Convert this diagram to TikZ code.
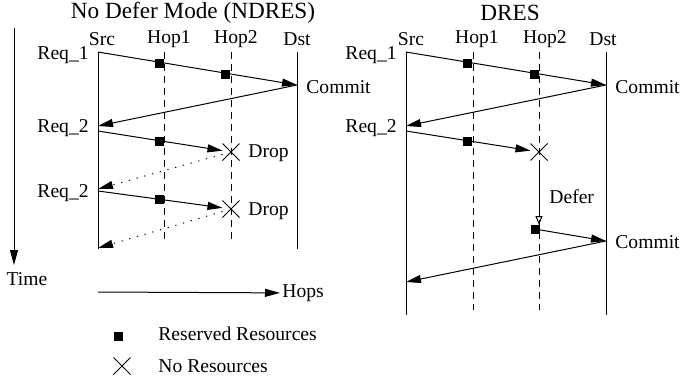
\documentclass[tikz,border=0pt]{standalone}
\usepackage{fontspec}
\setmainfont{Liberation Serif}
\usetikzlibrary{arrows.meta, shapes.misc, calc}

\tikzset{
  lbl/.style={font=\fontsize{9.8}{11}\selectfont, inner sep=1pt},
  ttl/.style={font=\fontsize{11.6}{13}\selectfont, inner sep=1pt},
  msg/.style={-{Triangle[length=7.5pt,width=4pt]}, line width=0.5pt},
  nack/.style={msg, dash pattern=on 0.6pt off 3.4pt},
  defer/.style={-{Triangle[open,length=4.5pt,width=3.5pt]}, line width=0.5pt},
  endpt/.style={line width=0.5pt},
  hop/.style={line width=0.5pt, dash pattern=on 3.5pt off 2.5pt},
  resv/.style={fill=black, minimum size=4.5pt, inner sep=0pt, anchor=east},
  nores/.style={cross out, draw, line width=0.5pt, minimum size=8pt, inner sep=0pt},
}

\begin{document}
\begin{tikzpicture}[x=0.5pt, y=-0.5pt]
\useasboundingbox (0,0) rectangle (680,381);

% time axis
\coordinate (tm0) at (14,28);
\coordinate (tm1) at (14,265);
\node[lbl] (tm) at (27,279) {Time};
\draw[msg] (tm0) -- (tm1);

% ---- no defer mode ----
\node[ttl] (t1) at (193,13) {No Defer Mode (NDRES)};
\node[lbl] (lsrc) at (102,39) {Src};
\node[lbl] (lh1) at (169,39) {Hop1};
\node[lbl] (lh2) at (236,39) {Hop2};
\node[lbl] (ldst) at (297,39) {Dst};

\draw[endpt] (98,52) -- (98,249);
\draw[endpt] (297,52) -- (297,249);
\draw[hop] (164,52) -- (164,243);
\draw[hop] (231,52) -- (231,243);

\coordinate (a1) at (98,52);
\coordinate (a2) at (297,85);
\coordinate (a3) at (98,126);
\coordinate (a4) at (98,131);
\node[nores] (ax1) at (231,152) {};
\coordinate (a5) at (98,189);
\coordinate (a6) at (98,191);
\node[nores] (ax2) at (231,209) {};
\coordinate (a7) at (98,248);

\draw[msg] (a1) -- node[resv,pos=1/3]{} node[resv,pos=2/3]{} (a2);
\draw[msg] (a2) -- (a3);
\draw[msg] (a4) -- (ax1);
\node[resv] at ($(a4)!.496!(ax1.center)$) {};
\draw[nack] (ax1) -- (a5);
\draw[msg] (a6) -- (ax2);
\node[resv] at ($(a6)!.496!(ax2.center)$) {};
\draw[nack] (ax2) -- (a7);

\node[lbl, anchor=east] (lr1) at (91,55) {Req\_1};
\node[lbl, anchor=east] (lr2) at (91,128) {Req\_2};
\node[lbl, anchor=east] (lr3) at (91,193) {Req\_2};
\node[lbl, anchor=west] (lc1) at (304,87) {Commit};
\node[lbl, anchor=west] (ld1) at (246,153) {Drop};
\node[lbl, anchor=west] (ld2) at (246,211) {Drop};

% hops axis
\coordinate (hp0) at (98,292);
\node[lbl, anchor=west] (hp) at (280,293) {Hops};
\draw[msg] (hp0) -- (hp);

% legend
\node[resv, anchor=center] (lg1) at (118.5,336) {};
\node[lbl, anchor=west] (lgt1) at (156,334) {Reserved Resources};
\node[nores] (lg2) at (122,366) {};
\node[lbl, anchor=west] (lgt2) at (156,366) {No Resources};

% ---- DRES ----
\node[ttl] (t2) at (510,13) {DRES};
\node[lbl] (rsrc) at (411,39) {Src};
\node[lbl] (rh1) at (477,39) {Hop1};
\node[lbl] (rh2) at (545,39) {Hop2};
\node[lbl] (rdst) at (603,39) {Dst};

\draw[endpt] (406,52) -- (406,315);
\draw[endpt] (606,52) -- (606,315);
\draw[hop] (473,52) -- (473,310);
\draw[hop] (539,52) -- (539,310);

\coordinate (b1) at (406,52);
\coordinate (b2) at (606,85);
\coordinate (b3) at (406,126);
\coordinate (b4) at (406,131);
\node[nores] (bx1) at (539,152) {};
\coordinate (b5) at (539,225);
\node[resv, anchor=north east] (bq) at (540,225) {};
\coordinate (b6) at (606,241);
\coordinate (b7) at (406,282);

\draw[msg] (b1) -- node[resv,pos=1/3]{} node[resv,pos=2/3]{} (b2);
\draw[msg] (b2) -- (b3);
\draw[msg] (b4) -- (bx1);
\node[resv] at ($(b4)!.5!(bx1.center)$) {};
\draw[defer] (bx1) -- (b5);
\draw[msg] (bq.east) -- (b6);
\draw[msg] (b6) -- (b7);

\node[lbl, anchor=east] (rr1) at (399,55) {Req\_1};
\node[lbl, anchor=east] (rr2) at (399,128) {Req\_2};
\node[lbl, anchor=west] (rc1) at (613,87) {Commit};
\node[lbl, anchor=west] (rc2) at (613,242) {Commit};
\node[lbl, anchor=west] (rdf) at (547,197) {Defer};
\end{tikzpicture}
\end{document}
